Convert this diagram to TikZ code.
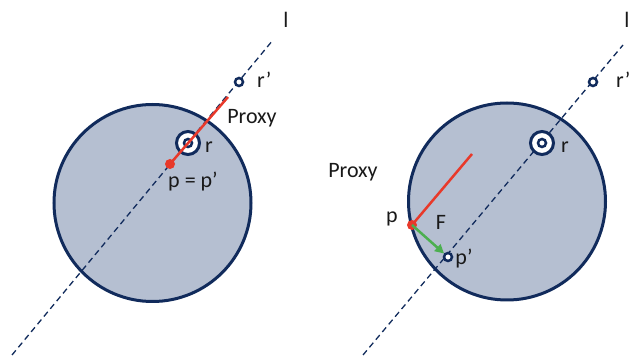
\documentclass[tikz,border=0pt]{standalone}
\usepackage{fontspec}
\setmainfont{Carlito}
\usetikzlibrary{arrows.meta}
\definecolor{navy}{HTML}{112B5C}
\definecolor{ballfill}{HTML}{B5BFD1}
\definecolor{proxyred}{HTML}{E8392A}
\definecolor{forcegreen}{HTML}{4CAF50}
\begin{document}
\begin{tikzpicture}[x=1pt,y=-1pt,
  ball/.style={circle,draw=navy,fill=ballfill,line width=3pt,minimum size=197pt,inner sep=0pt},
  axis/.style={draw=navy,line width=1.3pt,dash pattern=on 6pt off 4pt},
  ringbig/.style={circle,draw=navy,fill=white,line width=3pt,minimum size=23pt,inner sep=0pt},
  ringsmall/.style={circle,draw=navy,fill=white,line width=2.5pt,minimum size=8pt,inner sep=0pt},
  reddot/.style={circle,fill=proxyred,minimum size=10pt,inner sep=0pt},
  proxyline/.style={draw=proxyred,line width=2.5pt},
  force/.style={draw=forcegreen,line width=2.5pt,-{Triangle[length=9pt,width=9pt]}},
  lab/.style={font=\fontsize{22}{26}\selectfont,text=black!90,inner sep=0pt}]
\useasboundingbox (0,0) rectangle (630,358);
% ---------- left ----------
\node[ball] (B1) at (152.5,203) {};
\coordinate (La) at (12,355);
\coordinate (Lb) at (273,40);
\draw[axis] (La) -- (Lb);
\node[ringsmall] (rp1) at (239,82) {};
\node[ringbig] (r1) at (188,143) {};
\node[ringsmall] (r1i) at (188,143) {};
\coordinate (pe1) at (228,97);
\node[reddot] (p1) at (170,164) {};
\draw[proxyline] (p1.center) -- (pe1);
\node[lab] (l1) at (286,20) {l};
\node[lab,anchor=west] (rpl1) at (257,80) {r’};
\node[lab] (prox1) at (252,118) {Proxy};
\node[lab] (rl1) at (209,147) {r};
\node[lab] (pl1) at (193,182) {p = p’};
% ---------- right ----------
\node[ball] (B2) at (507,201.5) {};
\coordinate (Ra) at (363,355);
\coordinate (Rb) at (623,45);
\draw[axis] (Ra) -- (Rb);
\node[ringsmall] (rp2) at (593,82) {};
\node[ringbig] (r2) at (542,143) {};
\node[ringsmall] (r2i) at (542,143) {};
\node[ringsmall] (pp2) at (448,257) {};
\coordinate (pe2) at (472,154);
\node[reddot] (p2) at (412,225) {};
\draw[proxyline] (p2.center) -- (pe2);
\draw[force] (p2.center) -- (pp2);
\node[lab] (l2) at (627,20) {l};
\node[lab,anchor=west] (rpl2) at (616,80) {r’};
\node[lab] (prox2) at (353,172) {Proxy};
\node[lab] (rl2) at (565,147) {r};
\node[lab] (pl2) at (392,219) {p};
\node[lab] (fl2) at (441,222) {F};
\node[lab] (ppl2) at (464,259) {p’};
\end{tikzpicture}
\end{document}
